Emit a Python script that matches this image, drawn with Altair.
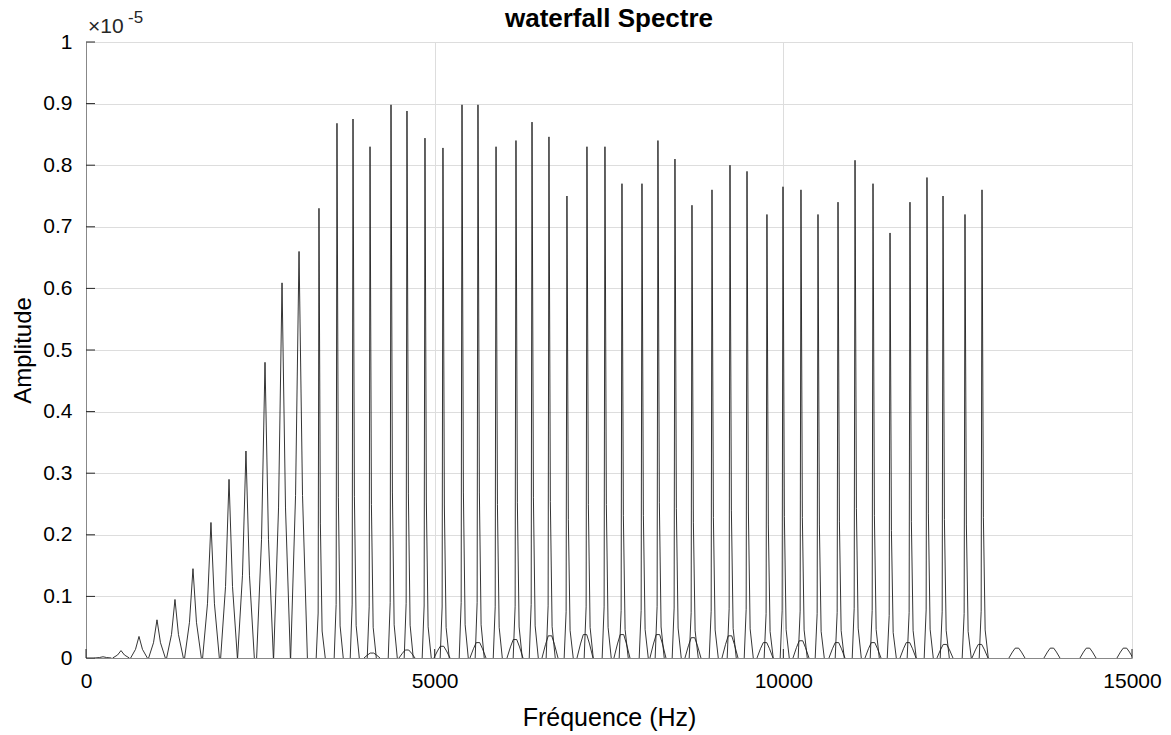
import altair as alt
import pandas as pd

# ---- data (amplitudes in units of 1e-5) ----
PEAK_FREQ_HZ = [244, 502, 760, 1018, 1276, 1534, 1792, 2051, 2294, 2567,
                2811, 3055, 3341, 3599, 3829, 4073, 4374, 4603, 4861, 5119,
                5392, 5621, 5880, 6166, 6396, 6639, 6897, 7184, 7442, 7686,
                7973, 8202, 8446, 8690, 8977, 9235, 9479, 9765, 9995, 10253,
                10497, 10784, 11028, 11286, 11530, 11816, 12060, 12290, 12605, 12849]
PEAK_AMP = [0.002, 0.012, 0.035, 0.062, 0.095, 0.145, 0.22, 0.29, 0.336, 0.48,
            0.609, 0.66, 0.73, 0.868, 0.875, 0.83, 0.898, 0.888, 0.844, 0.828,
            0.898, 0.898, 0.83, 0.84, 0.87, 0.846, 0.75, 0.83, 0.83, 0.77,
            0.77, 0.84, 0.81, 0.735, 0.76, 0.8, 0.79, 0.72, 0.765, 0.76,
            0.72, 0.74, 0.808, 0.77, 0.69, 0.74, 0.78, 0.75, 0.72, 0.76]
BUMP_FREQ_HZ = [4101, 4603, 5105, 5621, 6152, 6654, 7156, 7686, 8202, 8704, 9235,
                9737, 10253, 10769, 11286, 11788, 12318, 12820, 13350, 13852, 14369, 14899]
BUMP_AMP = [0.008, 0.013, 0.019, 0.025, 0.030, 0.036, 0.038, 0.038, 0.038, 0.033, 0.036,
            0.025, 0.028, 0.025, 0.025, 0.025, 0.022, 0.022, 0.016, 0.016, 0.016, 0.016]
X_TICKS = [0, 5000, 10000, 15000]
Y_TICKS = [0, 0.1, 0.2, 0.3, 0.4, 0.5, 0.6, 0.7, 0.8, 0.9, 1]
TITLE = "waterfall Spectre"

# ---- peak outline templates (style: offset in Hz, fraction of peak height) ----
WIDE_SHAPE = [(-120, 0.0), (-50, 0.4), (0, 1.0), (50, 0.4), (120, 0.0)]
SPIKE_SHAPE = [(-40, 0.0), (-12, 0.1), (0, 1.0), (20, 0.3), (45, 0.06), (90, 0.0)]
BUMP_SHAPE = [(-115, 0.0), (-65, 0.6), (-25, 1.0), (25, 1.0), (65, 0.6), (115, 0.0)]

rows = []
for i, (f, a) in enumerate(zip(PEAK_FREQ_HZ, PEAK_AMP)):
    shape = WIDE_SHAPE if i < 12 else SPIKE_SHAPE
    for j, (off, frac) in enumerate(shape):
        rows.append({"g": f"p{i}", "o": j, "f": f + off, "a": a * frac})
for i, (f, a) in enumerate(zip(BUMP_FREQ_HZ, BUMP_AMP)):
    for j, (off, frac) in enumerate(BUMP_SHAPE):
        rows.append({"g": f"b{i}", "o": j, "f": f + off, "a": a * frac})
df = pd.DataFrame(rows)

FONT = "Liberation Sans"
AX = "#262626"
W, H = 1046, 616

xscale = alt.Scale(domain=[0, 15000], nice=False, zero=False)
yscale = alt.Scale(domain=[0, 1], nice=False)
xaxis = alt.Axis(values=X_TICKS, format="d", title="Fréquence (Hz)", ticks=False,
                 labelFlush=False, labelPadding=12, titlePadding=14, labelFontSize=21,
                 titleFontSize=25, titleFontWeight="normal", grid=True)
yaxis = alt.Axis(values=Y_TICKS, format="~g", title="Amplitude", ticks=False,
                 labelPadding=14, titlePadding=7, labelFontSize=21, titleFontSize=24,
                 titleFontWeight="normal", grid=True)

X = lambda: alt.X("f:Q", scale=xscale, axis=xaxis)
Y = lambda: alt.Y("a:Q", scale=yscale, axis=yaxis)

spectrum = alt.Chart(df).mark_line(color="#1e1e1e", strokeWidth=0.9, clip=True).encode(
    x=X(), y=Y(), detail="g:N", order="o:Q")

ytick = alt.Chart(pd.DataFrame({"a": Y_TICKS})).mark_rule(color=AX, strokeWidth=1).encode(
    y=Y(), x=alt.value(0), x2=alt.value(9))
xtick = alt.Chart(pd.DataFrame({"f": X_TICKS})).mark_rule(color=AX, strokeWidth=1).encode(
    x=X(), y=alt.value(H), y2=alt.value(H - 9))

mult = alt.Chart(pd.DataFrame({"t": ["×10"]})).mark_text(
    align="left", baseline="alphabetic", fontSize=21, font=FONT, color=AX).encode(
    text="t:N", x=alt.value(2), y=alt.value(-9))
expo = alt.Chart(pd.DataFrame({"t": ["-5"]})).mark_text(
    align="left", baseline="alphabetic", fontSize=17, font=FONT, color=AX).encode(
    text="t:N", x=alt.value(42), y=alt.value(-19))
title = alt.Chart(pd.DataFrame({"t": [TITLE]})).mark_text(
    align="center", baseline="alphabetic", fontSize=26, fontWeight="bold", font=FONT,
    color="black").encode(text="t:N", x=alt.value(W / 2), y=alt.value(-15))

chart = alt.layer(spectrum, ytick, xtick, mult, expo, title).properties(
    width=W, height=H,
    autosize=alt.AutoSizeParams(type="none"),
    padding={"left": 86, "top": 42, "right": 1171 - 86 - W, "bottom": 735 - 42 - H},
).configure_view(stroke=None).configure_axis(
    labelFont=FONT, titleFont=FONT, labelColor=AX, titleColor=AX,
    domainColor=AX, domainWidth=1, gridColor="#e0e0e0", gridWidth=1,
).configure(background="white")

chart.save("out.html", embed_options={"renderer": "svg", "actions": False})
